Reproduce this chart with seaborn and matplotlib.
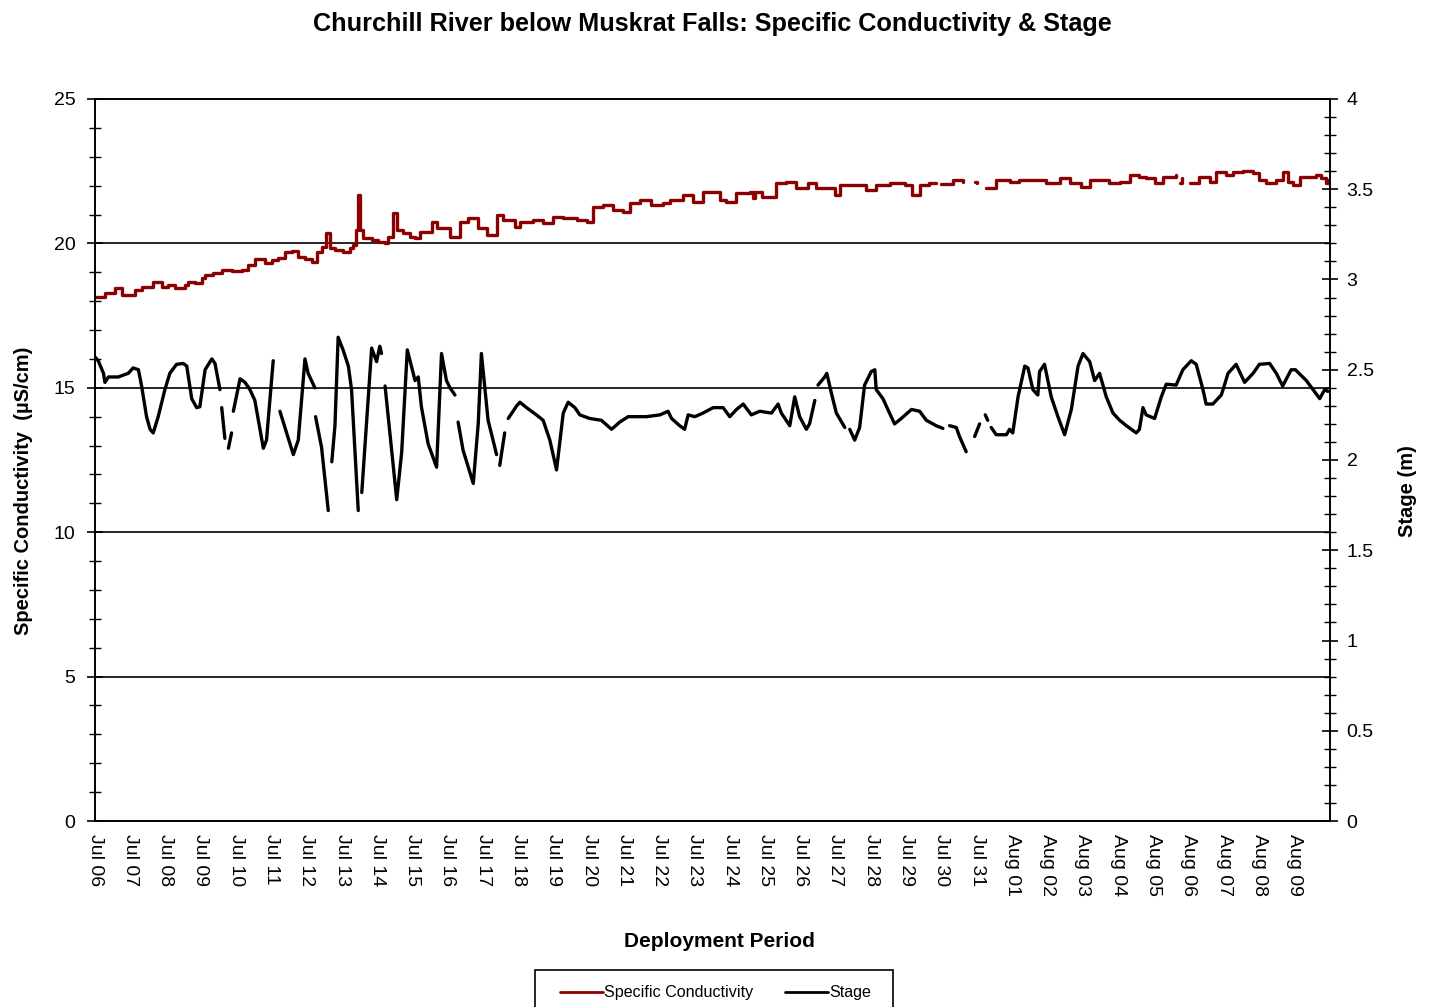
import numpy as np
import pandas as pd
import matplotlib
matplotlib.use("Agg")
import matplotlib.pyplot as plt
import matplotlib.dates as mdates
from matplotlib.lines import Line2D
from matplotlib.patches import Rectangle
from matplotlib.ticker import MultipleLocator, FuncFormatter
import seaborn as sns

# ---- data (days since Jul 06 00:00; np.nan marks a logging gap) ----
start = pd.Timestamp("2011-07-06")

cond_day = [0.00, 0.28, 0.57, 0.76, 1.13, 1.32, 1.65, 1.89, 2.08, 2.27, 2.55, 2.64, 2.83, 3.02, 3.12,
            3.35, 3.59, 3.87, 4.16, 4.34, 4.53, 4.82, 5.01, 5.19, 5.38, 5.57, 5.76, 5.95, 6.14, 6.28,
            6.42, 6.56, 6.66, 6.80, 7.03, 7.22, 7.32, 7.41, 7.46, 7.51, 7.60, 7.84, 8.03, 8.22, 8.31,
            8.45, 8.55, 8.73, 8.92, 9.07, 9.21, 9.54, 9.68, 10.06, 10.34, 10.58, 10.86, 11.10, 11.38,
            11.57, 11.90, 12.04, 12.42, 12.70, 12.98, 13.27, 13.65, 13.93, 14.12, 14.40, 14.68, 14.97,
            15.16, 15.44, 15.77, 16.10, 16.29, 16.67, 16.95, 17.23, 17.47, 17.71, 17.89, 18.18, 18.56,
            18.65, 18.70, 18.89, 19.31, 19.59, 19.88, 20.21, 20.44, 20.82, 20.96, 21.10, 21.48, 21.86,
            22.14, 22.52, 22.95, 23.14, 23.37, 23.65, 23.84, np.nan, 23.99, 24.31, 24.59, np.nan,
            24.93, 25.00, np.nan, 25.26, 25.54, 25.92, 26.20, 26.58, 26.96, 27.34, 27.62, 27.95, 28.19,
            28.56, 28.75, 29.04, 29.32, 29.60, 29.79, 30.03, 30.26, 30.64, np.nan, 30.74, 30.80, np.nan,
            31.02, 31.30, 31.59, 31.78, 32.06, 32.25, 32.53, 32.81, 33.00, 33.19, 33.48, 33.66, 33.80,
            33.94, 34.14, 34.42, 34.61, 34.75, 34.89, 34.94]
cond_us = [18.15, 18.27, 18.45, 18.21, 18.39, 18.50, 18.67, 18.50, 18.56, 18.45, 18.56, 18.67, 18.62,
           18.79, 18.91, 18.96, 19.08, 19.06, 19.08, 19.25, 19.45, 19.33, 19.43, 19.48, 19.71, 19.75,
           19.54, 19.45, 19.37, 19.71, 19.89, 20.35, 19.83, 19.77, 19.71, 19.83, 19.94, 20.46, 21.68,
           20.46, 20.18, 20.12, 20.06, 20.00, 20.23, 21.04, 20.46, 20.35, 20.23, 20.18, 20.41, 20.75,
           20.52, 20.23, 20.75, 20.87, 20.52, 20.29, 20.98, 20.81, 20.58, 20.75, 20.81, 20.70, 20.92,
           20.87, 20.81, 20.75, 21.27, 21.33, 21.16, 21.10, 21.39, 21.50, 21.33, 21.39, 21.50, 21.68,
           21.44, 21.79, 21.79, 21.50, 21.44, 21.73, 21.79, 21.56, 21.79, 21.62, 22.08, 22.14, 21.91,
           22.08, 21.91, 21.91, 21.68, 22.02, 22.02, 21.85, 22.02, 22.08, 22.02, 21.68, 22.02, 22.08,
           22.08, np.nan, 22.05, 22.20, 22.14, np.nan, 22.14, 22.08, np.nan, 21.91, 22.20, 22.14,
           22.20, 22.20, 22.08, 22.25, 22.08, 21.94, 22.20, 22.20, 22.08, 22.14, 22.37, 22.31, 22.25,
           22.08, 22.31, 22.37, np.nan, 22.08, 22.25, np.nan, 22.08, 22.31, 22.14, 22.48, 22.37, 22.48,
           22.51, 22.43, 22.20, 22.08, 22.20, 22.48, 22.14, 22.02, 22.31, 22.31, 22.37, 22.25, 22.08,
           22.20]

stage_day = [0.00, 0.09, 0.24, 0.28, 0.38, 0.66, 0.94, 1.08, 1.23, 1.32, 1.46, 1.56, 1.65, 1.79, 1.98,
             2.12, 2.31, 2.50, 2.60, 2.74, 2.88, 2.97, 3.12, 3.31, 3.40, 3.54, np.nan,
             3.59, 3.68, np.nan, 3.78, 3.87, np.nan,
             3.92, 4.11, 4.25, 4.39, 4.53, 4.77, 4.86, 5.05, np.nan,
             5.24, 5.43, 5.62, 5.76, 5.95, 6.04, 6.23, np.nan,
             6.25, 6.42, 6.61, np.nan,
             6.71, 6.80, 6.89, 7.03, 7.18, 7.27, 7.46, np.nan,
             7.56, 7.70, 7.84, 7.98, 8.07, 8.12, np.nan,
             8.22, 8.55, 8.69, 8.85, 9.07, 9.16, 9.25, 9.44, 9.68, 9.82, 9.96, 10.06, 10.20, np.nan,
             10.29, 10.43, 10.72, 10.86, 10.95, 11.14, 11.28, 11.38, np.nan,
             11.47, 11.61, np.nan,
             11.71, 11.95, 12.04, 12.23, 12.51, 12.70, 12.89, 13.08, 13.27, 13.41, 13.60, 13.74, 14.02,
             14.35, 14.64, 14.87, 15.11, 15.63, 16.01, 16.24, 16.34, 16.57, 16.71, 16.81, 17.00, 17.23,
             17.52, 17.80, 17.99, 18.18, 18.37, 18.60, 18.84, 19.17, 19.36, 19.45, 19.69, 19.83, 19.97,
             20.16, 20.25, 20.40, np.nan,
             20.49, 20.68, 20.74, 20.87, 21.01, 21.25, np.nan,
             21.39, 21.53, 21.67, 21.81, 22.00, 22.10, 22.14, 22.33, 22.47, 22.66, 22.85, 23.14, 23.37,
             23.56, 23.84, 24.03, np.nan,
             24.22, 24.41, 24.50, 24.69, np.nan,
             24.93, 25.07, np.nan,
             25.23, 25.30, np.nan,
             25.40, 25.54, 25.83, 25.92, 26.01, 26.16, 26.35, 26.44, 26.58, 26.72, 26.77, 26.91, 27.10,
             27.29, 27.48, 27.67, 27.86, 28.00, 28.19, 28.33, 28.47, 28.66, 28.85, 29.04, 29.23, 29.51,
             29.60, 29.70, 29.79, 30.03, 30.22, 30.36, 30.64, 30.83, 31.07, 31.21, 31.40, 31.49, 31.68,
             31.92, 32.01, 32.11, 32.34, 32.58, 32.82, 33.00, 33.29, 33.48, 33.66, 33.90, 34.02, 34.33,
             34.52, 34.71, 34.85, 34.94]
stage_m = [2.57, 2.55, 2.48, 2.43, 2.46, 2.46, 2.48, 2.51, 2.50, 2.41, 2.24, 2.17, 2.15, 2.24, 2.39,
           2.48, 2.53, 2.535, 2.52, 2.34, 2.29, 2.295, 2.50, 2.56, 2.535, 2.39, np.nan,
           2.29, 2.12, np.nan, 2.065, 2.15, np.nan,
           2.27, 2.45, 2.43, 2.39, 2.33, 2.065, 2.11, 2.55, np.nan,
           2.27, 2.15, 2.03, 2.11, 2.56, 2.48, 2.40, np.nan,
           2.24, 2.07, 1.72, np.nan,
           1.99, 2.19, 2.68, 2.61, 2.52, 2.39, 1.72, np.nan,
           1.82, 2.22, 2.62, 2.545, 2.63, 2.59, np.nan,
           2.41, 1.78, 2.04, 2.61, 2.44, 2.46, 2.295, 2.09, 1.96, 2.59, 2.44, 2.40, 2.36, np.nan,
           2.21, 2.055, 1.87, 2.20, 2.59, 2.22, 2.11, 2.03, np.nan,
           1.97, 2.15, np.nan,
           2.23, 2.30, 2.32, 2.29, 2.25, 2.22, 2.11, 1.945, 2.26, 2.32, 2.29, 2.25, 2.23,
           2.22, 2.17, 2.21, 2.24, 2.24, 2.25, 2.27, 2.23, 2.19, 2.17, 2.25, 2.24, 2.26,
           2.29, 2.29, 2.24, 2.28, 2.31, 2.25, 2.27, 2.26, 2.31, 2.26, 2.19, 2.35, 2.24,
           2.17, 2.20, 2.33, np.nan,
           2.415, 2.46, 2.48, 2.37, 2.26, 2.18, np.nan,
           2.17, 2.11, 2.18, 2.415, 2.49, 2.50, 2.39, 2.34, 2.28, 2.20, 2.23, 2.28, 2.27,
           2.22, 2.19, 2.175, np.nan,
           2.19, 2.18, 2.13, 2.046, np.nan,
           2.13, 2.20, np.nan,
           2.25, 2.22, np.nan,
           2.18, 2.14, 2.14, 2.17, 2.15, 2.35, 2.52, 2.51, 2.39, 2.36, 2.49, 2.53, 2.35,
           2.24, 2.14, 2.28, 2.52, 2.59, 2.545, 2.44, 2.48, 2.35, 2.26, 2.22, 2.19, 2.15,
           2.17, 2.29, 2.25, 2.23, 2.35, 2.42, 2.415, 2.50, 2.55, 2.53, 2.39, 2.31, 2.31,
           2.36, 2.415, 2.48, 2.53, 2.43, 2.48, 2.53, 2.535, 2.48, 2.41, 2.50, 2.50, 2.44,
           2.39, 2.34, 2.39, 2.38]

series_names = ["Specific Conductivity", "Stage"]
series_colors = ["#8b0000", "#000000"]


def to_frame(days, values):
    """Build a long table with one 'run' id per unbroken stretch of readings."""
    df = pd.DataFrame({"day": days, "value": values})
    df["run"] = df["day"].isna().cumsum()
    df = df.dropna().copy()
    df["time"] = start + pd.to_timedelta(df["day"], unit="D")
    return df


cond_df = to_frame(cond_day, cond_us)
stage_df = to_frame(stage_day, stage_m)

# ---- styling ----
sns.set_theme(style="white")
plt.rcParams["font.family"] = ["Liberation Sans", "DejaVu Sans"]
plt.rcParams["text.color"] = "black"
plt.rcParams["axes.labelcolor"] = "black"
plt.rcParams["xtick.color"] = "black"
plt.rcParams["ytick.color"] = "black"
plt.rcParams["axes.edgecolor"] = "black"
plt.rcParams["axes.linewidth"] = 1.2

fig = plt.figure(figsize=(14.29, 10.07), dpi=100)
ax = fig.add_axes([0.0665, 0.1847, 0.8642, 0.717])
ax2 = ax.twinx()

sns.lineplot(data=cond_df, x="time", y="value", units="run", estimator=None,
             color=series_colors[0], linewidth=2.4, drawstyle="steps-post",
             ax=ax, legend=False)
sns.lineplot(data=stage_df, x="time", y="value", units="run", estimator=None,
             color=series_colors[1], linewidth=2.4, ax=ax2, legend=False)

# left axis: conductivity
ax.set_ylim(0, 25)
ax.yaxis.set_major_locator(MultipleLocator(5))
ax.yaxis.set_minor_locator(MultipleLocator(1))
ax.set_ylabel("Specific Conductivity  (\u00b5S/cm)", fontsize=14.5, fontweight="bold")
ax.yaxis.set_label_coords(-0.050, 0.457)
for yv in (5, 10, 15, 20):
    ax.axhline(yv, color="black", linewidth=1.2, zorder=0.5)

# right axis: stage
ax2.set_ylim(0, 4)
ax2.yaxis.set_major_locator(MultipleLocator(0.5))
ax2.yaxis.set_minor_locator(MultipleLocator(0.1))
ax2.yaxis.set_major_formatter(FuncFormatter(lambda v, p: f"{v:g}"))
ax2.set_ylabel("Stage (m)", fontsize=14.5, fontweight="bold")
ax2.yaxis.set_label_coords(1.0548, 0.457)

# time axis: one tick per day, Jul 06 .. Aug 09
ax.set_xlim(start, start + pd.Timedelta(days=35))
day_ticks = pd.date_range(start, periods=35, freq="D")
ax.set_xticks(day_ticks)
ax.xaxis.set_major_formatter(mdates.DateFormatter("%b %d"))
ax.set_xlabel("Deployment Period", fontsize=15, fontweight="bold")
ax.xaxis.set_label_coords(0.506, -0.154)

ax.tick_params(axis="x", which="major", direction="out", length=7, width=1.2,
               labelsize=14, labelrotation=270, pad=2)
ax.tick_params(axis="y", which="major", direction="inout", length=12, width=1.2,
               labelsize=14, pad=8, left=True)
ax.tick_params(axis="y", which="minor", direction="inout", length=8, width=1.0, left=True)
ax2.tick_params(axis="y", which="major", direction="inout", length=12, width=1.2,
                labelsize=14, pad=6, right=True)
ax2.tick_params(axis="y", which="minor", direction="inout", length=8, width=1.0, right=True)
for a in (ax, ax2):
    a.grid(False)
    for s in a.spines.values():
        s.set_color("black")
        s.set_linewidth(1.2)
for lbl in ax.get_xticklabels():
    lbl.set_verticalalignment("top")
    lbl.set_horizontalalignment("center")

fig.suptitle("Churchill River below Muskrat Falls: Specific Conductivity & Stage",
             fontsize=18.2, fontweight="bold", x=0.4985, y=0.988)

# legend: entries plus a plain rectangular frame running off the bottom edge
handles = [Line2D([], [], color=c, linewidth=2) for c in series_colors]
fig.legend(handles, series_names, loc="upper center", bbox_to_anchor=(0.5005, 0.0335),
           ncol=2, frameon=False, fontsize=11.6,
           handlelength=2.7, handletextpad=0.05, columnspacing=1.95, borderpad=0.75,
           borderaxespad=0)
fig.patches.append(Rectangle((535 / 1429, -0.02), 358 / 1429, 0.02 + 37 / 1007,
                             transform=fig.transFigure, fill=False,
                             edgecolor="black", linewidth=1.2))

fig.savefig("out.png", dpi=100)
